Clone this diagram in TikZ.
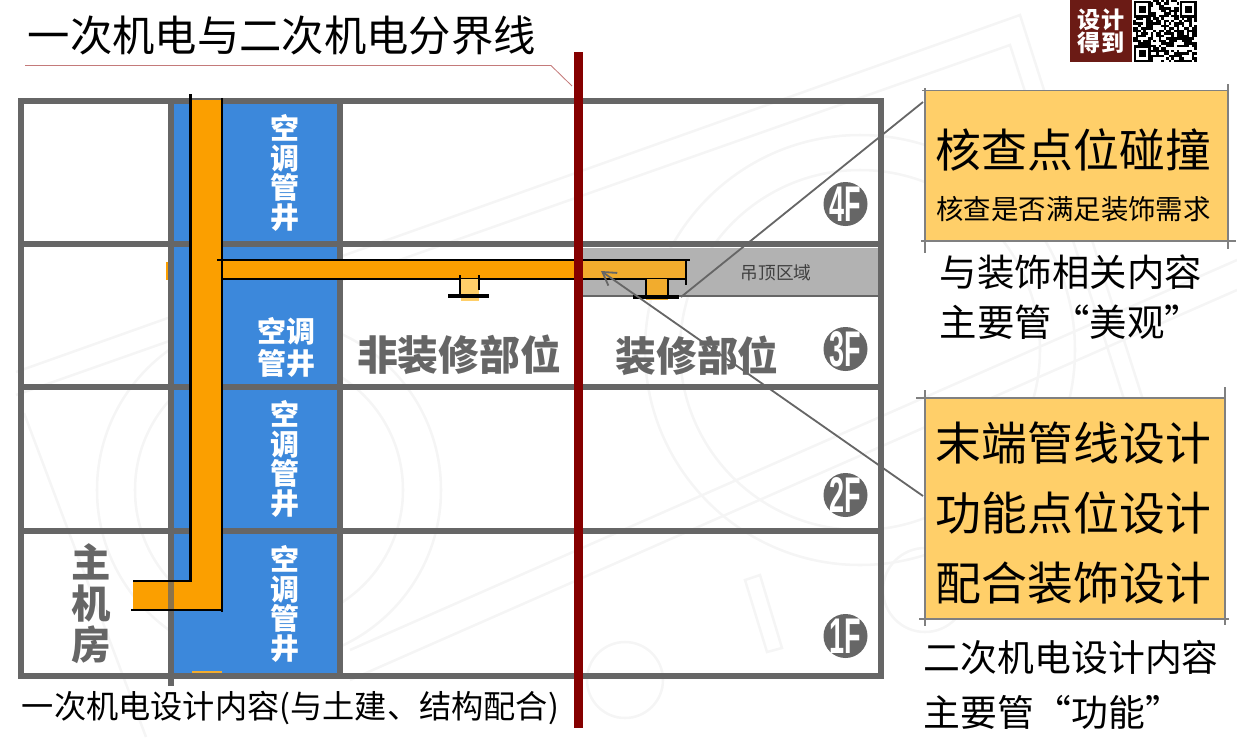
\documentclass[tikz,border=0pt]{standalone}
\usepackage{fontspec}
\setmainfont{Noto Sans CJK SC}
\newfontfamily\badgefont{Liberation Sans}
\usepackage{tikz}
\usetikzlibrary{arrows.meta}
\definecolor{wallgray}{HTML}{666666}
\definecolor{shaftblue}{HTML}{3C88DB}
\definecolor{ductorange}{HTML}{FB9F00}
\definecolor{ductshade}{HTML}{F2AC2D}
\definecolor{hangerorange}{HTML}{FFCF69}
\definecolor{ceilinggray}{HTML}{B2B2B2}
\definecolor{borderred}{HTML}{850000}
\definecolor{logored}{HTML}{6B1B15}
\definecolor{titlerule}{HTML}{C47A7A}
\newcommand{\floorlabel}[1]{\scalebox{.62}[1.15]{\badgefont\bfseries\fontsize{31}{31}\selectfont #1}}
\tikzset{
	wall/.style={draw=wallgray, line width=4.2pt},
	duct/.style={draw=black, line width=1.8pt},
	watermark/.style={draw=black!4, line width=1.8pt},
	leader/.style={draw=wallgray, line width=1.3pt},
	boxedge/.style={draw=black!50, line width=1pt},
	callout/.style={fill=hangerorange, inner sep=0pt},
	shaftlabel/.style={text=white, align=center, font=\bfseries\fontsize{20.6}{21}\selectfont},
	grayword/.style={text=wallgray, font=\bfseries\fontsize{29}{30}\selectfont},
	bigword/.style={anchor=west, font=\fontsize{32.6}{34}\selectfont},
	midword/.style={anchor=west, font=\fontsize{26.6}{28}\selectfont},
	floorbadge/.style={circle, fill=wallgray, minimum size=1.1cm, inner sep=0pt},
}
\begin{document}
\begin{tikzpicture}[x=0.025cm, y=-0.025cm]
	\useasboundingbox (0,0) rectangle (1237,752);
	% faint watermark
	\draw[watermark] (16,372)--(1020,15)--(1175,500);
	\draw[watermark] (16,395)--(1010,45)--(1150,480);
	\draw[watermark] (350,650)--(1237,260);
	\draw[watermark] (350,680)--(1237,290);
	\draw[watermark] (24,413)--(146,737);
	\draw[watermark] (269,490) circle (134);
	\draw[watermark] (269,490) circle (172);
	\draw[watermark] (860,350) circle (215);
	\draw[watermark] (860,350) circle (180);
	\draw[watermark] (745,580)--(760,575)--(782,648)--(767,652)--cycle;
	\draw[watermark] (625,680) circle (38);
	\draw[watermark] (925,590) circle (42);
	% ceiling zone and shaft
	\fill[ceilinggray] (576,248) rectangle (878,296);
	\draw[draw=wallgray, line width=1.5pt] (578,296)--(878,296);
	\fill[shaftblue] (168,104) rectangle (337,673);
	% walls
	\draw[wall] (21,101) rectangle (881,676);
	\foreach \ypos in {244,387,531}
		\draw[wall] (21,\ypos)--(881,\ypos);
	\draw[wall] (340,101)--(340,676);
	\draw[wall, line width=3.6pt] (171,101)--(171,686);
	\node[text=black!75, font=\fontsize{12.6}{13}\selectfont] (ceilingtag) at (776,273) {吊顶区域};
	% main duct
	\fill[ductorange] (191,100) rectangle (221,610);
	\fill[ductorange] (133,581) rectangle (221,610);
	\draw[wall, draw=wallgray, line width=3.6pt, opacity=.75] (171,581)--(171,610);
	\fill[ductorange] (221,260) rectangle (576,279);
	\fill[ductshade] (576,260) rectangle (686,279);
	\fill[ductorange] (166,262) rectangle (168,280);
	\fill[ductshade] (192,671) rectangle (222,673);
	\draw[duct] (190.5,94)--(190.5,581)--(133,581);
	\draw[duct] (222,98)--(222,612);
	\draw[duct] (131,610)--(222,610);
	\draw[duct] (217,260)--(690,260);
	\draw[duct] (221,279)--(686,279);
	\draw[duct] (686,260)--(686,285);
	% hangers
	\fill[hangerorange] (461,279) rectangle (479,301);
	\draw[duct] (460,275)--(460,296);
	\draw[duct] (479,275)--(479,290);
	\draw[duct, line width=2.4pt] (448,296)--(489,296);
	\fill[ductshade] (646,279) rectangle (668,300);
	\draw[duct] (646,279)--(646,297);
	\draw[duct] (668,279)--(668,297);
	\draw[duct, line width=2.4pt] (633,297)--(679,297);
	% boundary line and its title
	\draw[draw=borderred, line width=6.4pt] (578,52)--(578,728);
	\node[anchor=west, font=\fontsize{30.1}{32}\selectfont] (titletext) at (23,35) {一次机电与二次机电分界线};
	\draw[draw=titlerule, line width=.6pt] (25,65.5)--(551,65.5)--(572,86);
	% logo
	\fill[logored] (1070,0) rectangle (1132,62);
	\node[text=white, align=center, font=\bfseries\fontsize{16.4}{16.4}\selectfont] (logotext) at (1101,31.5) {设计\\得到};
	\fill[black] (1133,0) rectangle (1197,62);
	\foreach \i in {0,...,24}
		\foreach \j in {0,...,24} {
			\pgfmathparse{int(mod(mod(\i*\i*\j,17)+mod(\j*\j*\i,13)+3*\i+5*\j,7))}
			\ifnum\pgfmathresult<3
				\fill[white] (1133+\i*2.56,\j*2.48) rectangle (1135.56+\i*2.56,2.48+\j*2.48);
			\fi
		}
	\foreach \xpos/\ypos in {1133/0,1133/44.6,1179.1/0} {
		\fill[white] (\xpos,\ypos) rectangle (\xpos+18,\ypos+18);
		\fill[black] (\xpos+.5,\ypos+.5) rectangle (\xpos+17.5,\ypos+17.5);
		\fill[white] (\xpos+3,\ypos+3) rectangle (\xpos+15,\ypos+15);
		\fill[black] (\xpos+5.5,\ypos+5.5) rectangle (\xpos+12.5,\ypos+12.5);
	}
	% shaft labels
	\node[shaftlabel] (shaftD) at (285,173) {空\\调\\管\\井};
	\node[shaftlabel, font=\bfseries\fontsize{20.6}{22.8}\selectfont] (shaftC) at (286,347) {空调\\管井};
	\node[shaftlabel] (shaftB) at (285,459) {空\\调\\管\\井};
	\node[shaftlabel] (shaftA) at (285,604) {空\\调\\管\\井};
	\node[grayword, align=center, font=\bfseries\fontsize{28}{29.2}\selectfont] (hostroom) at (91,604) {主\\机\\房};
	\node[grayword] (plainzone) at (459,355) {非装修部位};
	\node[grayword] (finishzone) at (697,356) {装修部位};
	% floor marks
	\foreach \lev/\ypos in {4/204,3/349,2/495,1/636}
		\node[floorbadge, label={[text=white, inner sep=0pt]center:\floorlabel{\lev F}}] (badge\lev) at (845.5,\ypos) {};
	% callout boxes
	\node[callout, minimum width=7.575cm, minimum height=3.75cm] (boxtop) at (1075.5,166) {};
	\node[callout, minimum width=7.55cm, minimum height=5.525cm] (boxlow) at (1075,508.5) {};
	\draw[boxedge] (922,90.5)--(1229,90.5) (925,88)--(925,253) (1228,84)--(1228,249);
	\draw[boxedge, line width=1.4pt] (921,241)--(1236,241);
	\draw[boxedge] (916,398)--(1225,398) (925,390)--(925,626) (1225,387)--(1225,625);
	\draw[boxedge, line width=1.4pt] (919,619)--(1229,619);
	\node[bigword] (checktitle) at (931,150) {核查点位碰撞};
	\node[anchor=west, font=\fontsize{19.5}{20}\selectfont] (checksub) at (931.5,209) {核查是否满足装饰需求};
	\node[bigword] (pipeline) at (931,443) {末端管线设计};
	\node[bigword] (pointline) at (931,513) {功能点位设计};
	\node[bigword] (matchline) at (931,583) {配合装饰设计};
	\node[midword] (lookA) at (935,272) {与装饰相关内容};
	\node[midword] (lookB) at (935,322) {主要管“美观”};
	\node[midword, font=\fontsize{26.2}{28}\selectfont] (funcA) at (919,657) {二次机电设计内容};
	\node[midword, font=\fontsize{26.2}{28}\selectfont] (funcB) at (919,712) {主要管“功能”};
	\node[anchor=west, font=\fontsize{22.9}{24}\selectfont] (firstnote) at (17,708) {一次机电设计内容(与土建、结构配合)};
	% leaders
	\coordinate (hangerright) at (681,297);
	\coordinate (ducttip) at (601,271);
	\coordinate (boxtopleft) at (923,102);
	\coordinate (boxlowleft) at (923,496);
	\draw[leader] (boxtopleft)--(hangerright);
	\draw[leader, -{Straight Barb[length=9pt, width=11pt]}] (boxlowleft)--(ducttip);
\end{tikzpicture}
\end{document}
